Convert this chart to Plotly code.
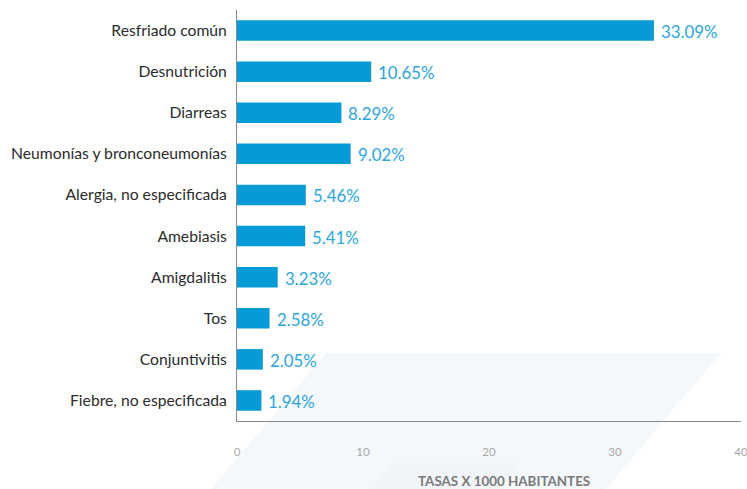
import plotly.graph_objects as go

# Enfermedades más frecuentes, tasas por 1000 habitantes
causas = [
    "Resfriado común",
    "Desnutrición",
    "Diarreas",
    "Neumonías y bronconeumonías",
    "Alergia, no especificada",
    "Amebiasis",
    "Amigdalitis",
    "Tos",
    "Conjuntivitis",
    "Fiebre, no especificada",
]
tasas = [33.09, 10.65, 8.29, 9.02, 5.46, 5.41, 3.23, 2.58, 2.05, 1.94]
x_ticks = [0, 10, 20, 30, 40]

BAR = "#069bd7"
VAL = "#2ba6df"
FONT = "Lato, 'Open Sans', sans-serif"

fig = go.Figure()
fig.add_trace(go.Bar(
    x=tasas,
    y=causas,
    orientation="h",
    marker=dict(color=BAR, line=dict(width=0)),
    width=0.5,
    hoverinfo="skip",
))

# value labels next to each bar
annotations = [
    dict(x=v, y=c, xref="x", yref="y", text=f"{v:.2f}%",
         showarrow=False, xanchor="left", yanchor="middle", xshift=5, yshift=-1,
         font=dict(family=FONT, size=16.8, color=VAL))
    for c, v in zip(causas, tasas)
]
annotations.append(dict(
    x=0.53, y=-0.146, xref="paper", yref="paper",
    text="<b>TASAS X 1000 HABITANTES</b>", showarrow=False,
    xanchor="center", yanchor="middle",
    font=dict(family=FONT, size=13.4, color="#7a7a7a"),
))

# faint decorative parallelograms behind the chart
L, R, T, B = 237, 741, 10, 421
W, H = R - L, B - T


def px(x, y):
    return f"{(x - L) / W:.4f},{(B - y) / H:.4f}"


def para(x_top_left, x_top_right, y_top, y_bot, dx_per_dy):
    d = (y_bot - y_top) * dx_per_dy
    return ("M " + px(x_top_left, y_top) + " L " + px(x_top_right, y_top)
            + " L " + px(x_top_right - d, y_bot) + " L " + px(x_top_left - d, y_bot) + " Z")


slope = 115 / 136
shapes = [
    dict(type="path", xref="paper", yref="paper", layer="below",
         path=para(326, 721, 353, 500, slope),
         fillcolor="#f4f8fb", line=dict(width=0)),
    dict(type="path", xref="paper", yref="paper", layer="below",
         path=para(393, 519, 463, 500, slope),
         fillcolor="#f1f5f9", line=dict(width=0)),
]

fig.update_layout(
    width=747,
    height=489,
    margin=dict(l=L, r=747 - R, t=T, b=489 - B, autoexpand=False),
    paper_bgcolor="rgba(0,0,0,0)",
    plot_bgcolor="rgba(0,0,0,0)",
    showlegend=False,
    bargap=0.5,
    annotations=annotations,
    shapes=shapes,
    font=dict(family=FONT),
    xaxis=dict(
        range=[0, 40],
        tickvals=x_ticks,
        ticktext=[str(t) for t in x_ticks],
        showgrid=False,
        zeroline=False,
        showline=True,
        linecolor="#8a8a8a",
        linewidth=1,
        ticks="",
        ticklabelstandoff=20,
        ticklabeloverflow="allow",
        automargin=False,
        tickfont=dict(family=FONT, size=11.5, color="#a8a8a8"),
        fixedrange=True,
    ),
    yaxis=dict(
        categoryorder="array",
        categoryarray=causas[::-1],
        showgrid=False,
        zeroline=False,
        showline=True,
        linecolor="#8a8a8a",
        linewidth=1,
        ticks="",
        ticklabelstandoff=6,
        automargin=False,
        tickfont=dict(family=FONT, size=15.7, color="#2b2b2b"),
        fixedrange=True,
    ),
)

fig.write_html("out.html")
